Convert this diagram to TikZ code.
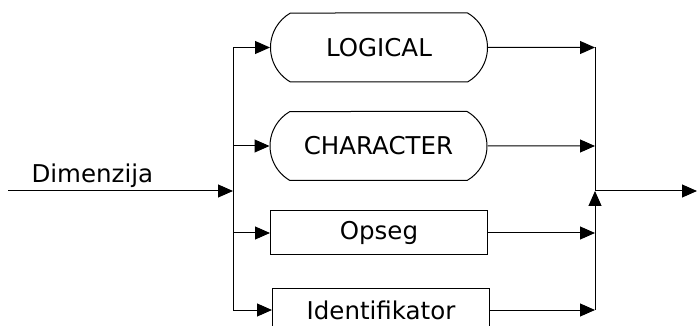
\documentclass[tikz,border=0pt]{standalone}
\usepackage{fontspec}
\setmainfont{DejaVu Sans}
\usetikzlibrary{
        shapes.misc,
        positioning,
        arrows.meta
    }

\begin{document}
\begin{tikzpicture}
[x=1pt, y=1pt,
baseshape/.style={minimum width=217pt, text centered, font=\fontsize{24.5}{29}\selectfont, draw=black, line width=1pt, inner sep=0pt},
keyword/.style={baseshape, rounded rectangle, rounded rectangle arc length=120, minimum height=69pt},
symbol/.style={baseshape, rectangle, minimum height=44pt},
line/.style={line width=1pt},
arrow/.style={line, -{Triangle[length=15pt, width=13pt]}},]
    \useasboundingbox (0,0) rectangle (697,-326);
    \node (logical) [keyword] at (379,-47.5) {LOGICAL};
    \node (character) [keyword] at (378.5,-146) {CHARACTER};
    \node (opseg) [symbol] at (379,-233) {Opseg};
    \node (ident) [symbol] at (381,-310) {Identifikator};
    \coordinate (in) at (8,-191);
    \coordinate (split) at (233,-191);
    \coordinate (join) at (595,-191);
    \coordinate (out) at (697,-191);
    \draw[arrow] (in) -- node[pos=0.375, anchor=base, yshift=8pt, font=\fontsize{24.5}{29}\selectfont]{Dimenzija} (split);
    \draw[line] (split |- logical) -- (split |- ident);
    \draw[arrow] (split |- logical) -- (logical);
    \draw[arrow] (split |- character) -- (character);
    \draw[arrow] (split |- opseg) -- (opseg);
    \draw[arrow] (split |- ident) -- (ident);
    \draw[arrow] (logical) -- (join |- logical);
    \draw[arrow] (character) -- (join |- character);
    \draw[arrow] (opseg) -- (join |- opseg);
    \draw[arrow] (ident) -- (join |- ident);
    \draw[line] (join |- logical) -- (join);
    \draw[arrow] (join |- ident) -- (join);
    \draw[arrow] (join) -- (out);
\end{tikzpicture}
\end{document}
